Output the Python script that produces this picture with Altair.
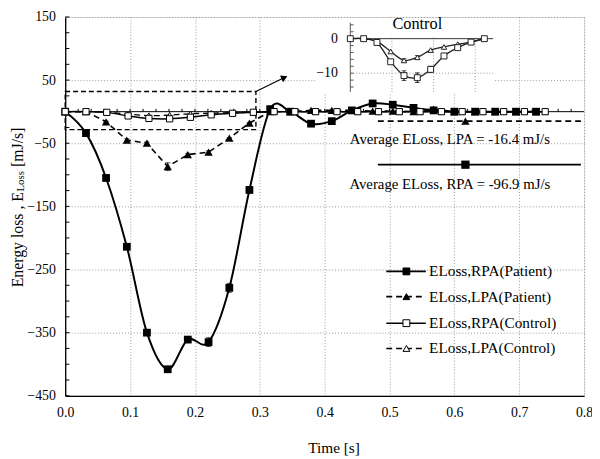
import altair as alt
import pandas as pd

FONT = "Liberation Serif, Times New Roman, serif"

# ---------------- data ----------------
t_patient = [0.000, 0.032, 0.063, 0.095, 0.126, 0.158, 0.189, 0.221, 0.253, 0.284, 0.316, 0.347,
             0.379, 0.411, 0.442, 0.474, 0.505, 0.537, 0.568, 0.600, 0.632, 0.663, 0.695, 0.726]
rpa_patient = [0, -34, -105, -214, -350, -408, -361, -365, -279, -124, 4, 0,
               -19, -15, 2, 13, 11, 6, 2, 0, 0, 0, 0, 0]
rpa_patient_err = [0, 1, 2, 2, 3, 3, 3, 7, 7, 2, 1, 0,
                   1, 1, 1, 1, 1, 1, 0, 0, 0, 0, 0, 0]
lpa_patient = [0, 0, -16, -45, -50, -87, -68, -64, -42, -18, 0, 0,
               2, 2, 2, 1, 1, 0, 4, 0, 0, 0, 0, 0]
lpa_patient_err = [0, 0, 1, 2, 2, 6, 2, 2, 1, 1, 0, 0,
                   0, 0, 0, 0, 0, 0, 0, 0, 0, 0, 0, 0]

t_control = [0.000, 0.032, 0.064, 0.097, 0.129, 0.161, 0.193, 0.225, 0.258, 0.290, 0.322, 0.354,
             0.386, 0.419, 0.451, 0.483, 0.515, 0.547, 0.580, 0.612, 0.644, 0.676, 0.708, 0.740]
rpa_control = [0, 0, -1.1, -6.7, -10.7, -11.3, -8.9, -5.0, -2.6, -1.0, 0, 0,
               0, 0, 0, 0, 0, 0, 0, 0, 0, 0, 0, 0]
rpa_control_err = [0, 0, 0.2, 0.6, 1.4, 1.4, 0.9, 0.4, 0.3, 0.2, 0, 0,
                   0, 0, 0, 0, 0, 0, 0, 0, 0, 0, 0, 0]
lpa_control = [0, 0, -0.8, -3.7, -6.3, -5.4, -3.3, -2.4, -1.6, -1.0, 0, 0,
               0, 0, 0, 0, 0, 0, 0, 0, 0, 0, 0, 0]
lpa_control_err = [0, 0, 0.1, 0.3, 0.5, 0.5, 0.3, 0.2, 0.2, 0.1, 0, 0,
                   0, 0, 0, 0, 0, 0, 0, 0, 0, 0, 0, 0]

x_ticks = [0.0, 0.1, 0.2, 0.3, 0.4, 0.5, 0.6, 0.7, 0.8]
y_ticks = [-450, -350, -250, -150, -50, 50, 150]
y_minor = list(range(-450, 151, 25))
x_minor_zero = [round(0.02 * i, 2) for i in range(1, 40)]

legend_labels = ["ELoss,RPA(Patient)", "ELoss,LPA(Patient)", "ELoss,RPA(Control)", "ELoss,LPA(Control)"]
legend_dash = ["solid", "dashed", "solid", "dashed"]
legend_shape = ["square", "triangle-up", "square", "triangle-up"]
legend_fill = ["filled", "filled", "open", "open"]

avg_labels = ["Average ELoss, LPA = -16.4 mJ/s", "Average ELoss, RPA = -96.9 mJ/s"]
avg_values = [-16.4, -96.9]

inset_title = "Control"
inset_y_labels = [0, -10]
inset_y_minor = [-14, -12, -10, -8, -6, -4, -2, 0, 2, 4]
inset_x_grid = [0.1, 0.2, 0.3]

# ---------------- layout (annotation placement) ----------------
LEG_LINE_X = (0.495, 0.556)
LEG_MARK_X = 0.526
LEG_TEXT_X = 0.561
LEG_Y = [-253, -293, -335, -375]
AVG_LINE_X = (0.482, 0.795)
AVG_MARK_X = 0.617
AVG_LINE_Y = [-15, -84]
AVG_TEXT_Y = [-44, -114]
AVG_TEXT_X = 0.593
BOX = (0.0, 0.294, -28.5, 32.0)
ARROW = (0.294, 32.0, 0.338, 54.0)
INSET_CUT = 0.33
TOP = 6            # plot top offset inside the svg
INSET_X_RANGE = [289, 436.7]
INSET_Y_RANGE = [80.5 - TOP, 10.5 - TOP]


def xs():
    return alt.Scale(domain=[0, 0.8], nice=False, zero=False)


def ys():
    return alt.Scale(domain=[-450, 150], nice=False, zero=False)


def xi():
    return alt.Scale(domain=[0, 0.35], range=INSET_X_RANGE, nice=False, zero=False)


def yi():
    return alt.Scale(domain=[-15, 5], range=INSET_Y_RANGE, nice=False, zero=False)


def X(f, s=xs):
    return alt.X(f, type="quantitative", scale=s(), axis=None)


def Y(f, s=ys):
    return alt.Y(f, type="quantitative", scale=s(), axis=None)


def err_layers(df, xscale, yscale, cap=28):
    d = df[df.e > 0].copy()
    d["lo"] = d.v - d.e
    d["hi"] = d.v + d.e
    rule = alt.Chart(d).mark_rule(color="black", strokeWidth=1).encode(
        x=X("t", xscale), y=Y("lo", yscale), y2="hi:Q")
    caps = pd.concat([d[["t", "lo"]].rename(columns={"lo": "c"}),
                      d[["t", "hi"]].rename(columns={"hi": "c"})])
    capl = alt.Chart(caps).mark_point(shape="stroke", size=cap, color="black", strokeWidth=1).encode(
        x=X("t", xscale), y=Y("c", yscale))
    return [rule, capl]


df_rp = pd.DataFrame({"t": t_patient, "v": rpa_patient, "e": rpa_patient_err})
df_lp = pd.DataFrame({"t": t_patient, "v": lpa_patient, "e": lpa_patient_err})
df_rc = pd.DataFrame({"t": t_control, "v": rpa_control, "e": rpa_control_err})
df_lc = pd.DataFrame({"t": t_control, "v": lpa_control, "e": lpa_control_err})

# ---------------- main panel ----------------
zero_df = pd.DataFrame({"x0": [0.0], "x1": [0.8], "y": [0.0]})
axis_layer = alt.Chart(zero_df).mark_rule(color="black", strokeWidth=1).encode(
    x=alt.X("x0:Q", scale=xs(), axis=alt.Axis(
        values=x_ticks, format=".1f", grid=True, gridColor="#9a9a9a", gridDash=[1, 2],
        ticks=False, domain=True, domainColor="black", domainWidth=1.3,
        labelFont=FONT, labelFontSize=14, labelColor="black", labelPadding=10,
        labelFlush=False, title="Time [s]", titleFont=FONT, titleFontSize=15.5,
        titleFontWeight="normal", titleColor="black", titleX=272, titleY=45,
        titleBaseline="top")),
    x2="x1:Q",
    y=alt.Y("y:Q", scale=ys(), axis=alt.Axis(
        values=y_ticks, grid=True, gridColor="#9a9a9a", gridDash=[1, 2], ticks=False,
        domain=True, domainColor="black", domainWidth=1.3, labelFont=FONT,
        labelFontSize=14, labelColor="black", labelPadding=10, labelFlush=False,
        title=None)),
)

zt = pd.DataFrame({"t": x_minor_zero, "a": 0.0, "b": 4.5})
zero_ticks = alt.Chart(zt).mark_rule(color="black", strokeWidth=1).encode(
    x=X("t"), y=Y("a"), y2="b:Q")
ym = pd.DataFrame({"v": y_minor, "a": 0.0, "b": 0.0065})
y_minor_ticks = alt.Chart(ym).mark_rule(color="black", strokeWidth=1).encode(
    x=X("a"), x2="b:Q", y=Y("v"))

box = alt.Chart(pd.DataFrame({"a": [BOX[0]], "b": [BOX[1]], "c": [BOX[2]], "d": [BOX[3]]})).mark_rect(
    fill=None, stroke="black", strokeWidth=1.4, strokeDash=[5, 3]).encode(
    x=X("a"), x2="b:Q", y=Y("c"), y2="d:Q")
arrow_line = alt.Chart(pd.DataFrame({"a": [ARROW[0]], "b": [ARROW[2]], "c": [ARROW[1]], "d": [ARROW[3]]})).mark_rule(
    color="black", strokeWidth=1.2).encode(x=X("a"), x2="b:Q", y=Y("c"), y2="d:Q")
arrow_head = alt.Chart(pd.DataFrame({"a": [ARROW[2]], "c": [ARROW[3]]})).mark_point(
    shape="triangle-right", filled=True, color="black", size=55, angle=336, opacity=1).encode(
    x=X("a"), y=Y("c"))

rp_line = alt.Chart(df_rp).mark_line(color="black", strokeWidth=2, interpolate="cardinal").encode(
    x=X("t"), y=Y("v"))
lp_line = alt.Chart(df_lp).mark_line(color="black", strokeWidth=1.6, strokeDash=[6, 4]).encode(
    x=X("t"), y=Y("v"))
rc_line = alt.Chart(df_rc).mark_line(color="black", strokeWidth=1.5, interpolate="cardinal").encode(
    x=X("t"), y=Y("v"))
lc_line = alt.Chart(df_lc).mark_line(color="black", strokeWidth=1.3, strokeDash=[6, 4],
                                     interpolate="cardinal").encode(x=X("t"), y=Y("v"))

rp_pts = alt.Chart(df_rp).mark_point(shape="square", filled=True, color="black", size=62, opacity=1).encode(
    x=X("t"), y=Y("v"))
lp_pts = alt.Chart(df_lp).mark_point(shape="triangle-up", filled=True, color="black", size=72, opacity=1).encode(
    x=X("t"), y=Y("v"))
rc_pts = alt.Chart(df_rc).mark_point(shape="square", filled=True, fill="white", stroke="black",
                                     strokeWidth=1, size=40, opacity=1).encode(x=X("t"), y=Y("v"))
lc_pts = alt.Chart(df_lc).mark_point(shape="triangle-up", filled=True, fill="white", stroke="black",
                                     strokeWidth=1, size=40, opacity=1).encode(x=X("t"), y=Y("v"))

# average annotations
dash_scale = alt.Scale(domain=["solid", "dashed"], range=[[1, 0], [6, 4]])
shape_scale = alt.Scale(domain=["square", "triangle-up"], range=["square", "triangle-up"])
avg_df = pd.DataFrame({"label": avg_labels, "avg": avg_values, "ly": AVG_LINE_Y, "ty": AVG_TEXT_Y,
                       "dash": ["dashed", "solid"], "shape": ["triangle-up", "square"],
                       "x0": AVG_LINE_X[0], "x1": AVG_LINE_X[1], "xm": AVG_MARK_X, "xt": AVG_TEXT_X})
avg_lines = alt.Chart(avg_df).mark_rule(color="black", strokeWidth=1.8).encode(
    x=X("x0"), x2="x1:Q", y=Y("ly"), strokeDash=alt.StrokeDash("dash:N", scale=dash_scale, legend=None))
avg_marks = alt.Chart(avg_df).mark_point(filled=True, color="black", size=70, opacity=1).encode(
    x=X("xm"), y=Y("ly"), shape=alt.Shape("shape:N", scale=shape_scale, legend=None))
avg_text = alt.Chart(avg_df).mark_text(font=FONT, fontSize=15, color="black", align="center",
                                       baseline="middle").encode(x=X("xt"), y=Y("ty"), text="label:N")

# manual legend
leg_df = pd.DataFrame({"label": legend_labels, "y": LEG_Y, "dash": legend_dash, "shape": legend_shape,
                       "fill": legend_fill, "x0": LEG_LINE_X[0], "x1": LEG_LINE_X[1],
                       "xm": LEG_MARK_X, "xt": LEG_TEXT_X})
leg_lines = alt.Chart(leg_df).mark_rule(color="black", strokeWidth=1.6).encode(
    x=X("x0"), x2="x1:Q", y=Y("y"), strokeDash=alt.StrokeDash("dash:N", scale=dash_scale, legend=None))
leg_marks = alt.Chart(leg_df).mark_point(filled=True, stroke="black", strokeWidth=1, size=48, opacity=1).encode(
    x=X("xm"), y=Y("y"), shape=alt.Shape("shape:N", scale=shape_scale, legend=None),
    fill=alt.Fill("fill:N", scale=alt.Scale(domain=["filled", "open"], range=["black", "white"]), legend=None))
leg_text = alt.Chart(leg_df).mark_text(font=FONT, fontSize=15.5, color="black", align="left",
                                       baseline="middle").encode(x=X("xt"), y=Y("y"), text="label:N")

# y-axis title with subscript
one = pd.DataFrame({"k": [0]})
YT_X, YT_Y = -48, 280 - TOP
yt1 = alt.Chart(one).mark_text(font=FONT, fontSize=16, color="black", angle=270, align="left",
                               baseline="middle", dx=0).encode(
    x=alt.value(YT_X), y=alt.value(YT_Y), text=alt.value("Energy loss , E"))
yt2 = alt.Chart(one).mark_text(font=FONT, fontSize=11, color="black", angle=270, align="left",
                               baseline="middle", dx=97, dy=3.5).encode(
    x=alt.value(YT_X), y=alt.value(YT_Y), text=alt.value("Loss"))
yt3 = alt.Chart(one).mark_text(font=FONT, fontSize=16, color="black", angle=270, align="left",
                               baseline="middle", dx=122).encode(
    x=alt.value(YT_X), y=alt.value(YT_Y), text=alt.value("[mJ/s]"))

main_layers = [
    axis_layer, zero_ticks, y_minor_ticks, box, arrow_line, arrow_head,
    *err_layers(df_rp, xs, ys), *err_layers(df_lp, xs, ys),
    rp_line, lp_line, rc_line, lc_line, lp_pts, rp_pts, lc_pts, rc_pts,
    avg_lines, avg_marks, avg_text, leg_lines, leg_marks, leg_text, yt1, yt2, yt3,
]

# ---------------- inset (Control) ----------------
ins_rc = df_rc[df_rc.t <= INSET_CUT]
ins_lc = df_lc[df_lc.t <= INSET_CUT]
bg = alt.Chart(pd.DataFrame({"a": [-0.083], "b": [0.344], "c": [-16.0], "d": [6.0]})).mark_rect(
    fill="white").encode(x=X("a", xi), x2="b:Q", y=Y("c", yi), y2="d:Q")
ig_v = alt.Chart(pd.DataFrame({"t": inset_x_grid, "a": -15.4, "b": 0.5})).mark_rule(
    color="#9a9a9a", strokeDash=[1, 2], strokeWidth=1).encode(x=X("t", xi), y=Y("a", yi), y2="b:Q")
ig_h = alt.Chart(pd.DataFrame({"a": [0.0], "b": [0.343], "v": [-10.0]})).mark_rule(
    color="#9a9a9a", strokeDash=[1, 2], strokeWidth=1).encode(x=X("a", xi), x2="b:Q", y=Y("v", yi))
i_xaxis = alt.Chart(pd.DataFrame({"a": [0.0], "b": [0.343], "v": [0.0]})).mark_rule(
    color="#333", strokeWidth=1).encode(x=X("a", xi), x2="b:Q", y=Y("v", yi))
i_yaxis = alt.Chart(pd.DataFrame({"t": [0.0], "a": [-15.4], "b": [4.6]})).mark_rule(
    color="#555", strokeWidth=1).encode(x=X("t", xi), y=Y("a", yi), y2="b:Q")
i_yticks = alt.Chart(pd.DataFrame({"v": inset_y_minor, "a": 0.0, "b": 0.008})).mark_rule(
    color="#555", strokeWidth=1).encode(x=X("a", xi), x2="b:Q", y=Y("v", yi))
i_ylab = alt.Chart(pd.DataFrame({"v": inset_y_labels, "a": -0.03})).mark_text(
    font=FONT, fontSize=14, color="black", align="right", baseline="middle").encode(
    x=X("a", xi), y=Y("v", yi), text="v:Q")
i_title = alt.Chart(pd.DataFrame({"a": [0.161], "v": [4.3], "s": [inset_title]})).mark_text(
    font=FONT, fontSize=16.5, color="black", align="center", baseline="middle").encode(
    x=X("a", xi), y=Y("v", yi), text="s:N")
i_rc_line = alt.Chart(ins_rc).mark_line(color="#222", strokeWidth=1.3, interpolate="cardinal").encode(
    x=X("t", xi), y=Y("v", yi))
i_lc_line = alt.Chart(ins_lc).mark_line(color="#222", strokeWidth=1.3, interpolate="cardinal").encode(
    x=X("t", xi), y=Y("v", yi))
i_rc_pts = alt.Chart(ins_rc).mark_point(shape="square", filled=True, fill="white", stroke="#222",
                                        strokeWidth=1, size=36, opacity=1).encode(x=X("t", xi), y=Y("v", yi))
i_lc_pts = alt.Chart(ins_lc).mark_point(shape="triangle-up", filled=True, fill="white", stroke="#222",
                                        strokeWidth=1, size=30, opacity=1).encode(x=X("t", xi), y=Y("v", yi))

inset_layers = [
    bg, ig_v, ig_h, i_xaxis, i_yaxis, i_yticks, i_ylab, i_title,
    *err_layers(ins_rc[ins_rc.e >= 0.5], xi, yi, cap=22), *err_layers(ins_lc[ins_lc.e >= 0.5], xi, yi, cap=22),
    i_rc_line, i_lc_line, i_lc_pts, i_rc_pts,
]

chart = alt.layer(*main_layers, *inset_layers).resolve_scale(
    x="independent", y="independent", strokeDash="independent", shape="independent", fill="independent"
).properties(
    width=526, height=384,
    padding={"left": 58, "top": TOP, "right": 8, "bottom": 61},
    autosize=alt.AutoSizeParams(type="none"),
).configure_view(stroke="#333", strokeWidth=1.3).configure(background="white")

chart.save("out.html", embed_options={"renderer": "svg", "actions": False})
